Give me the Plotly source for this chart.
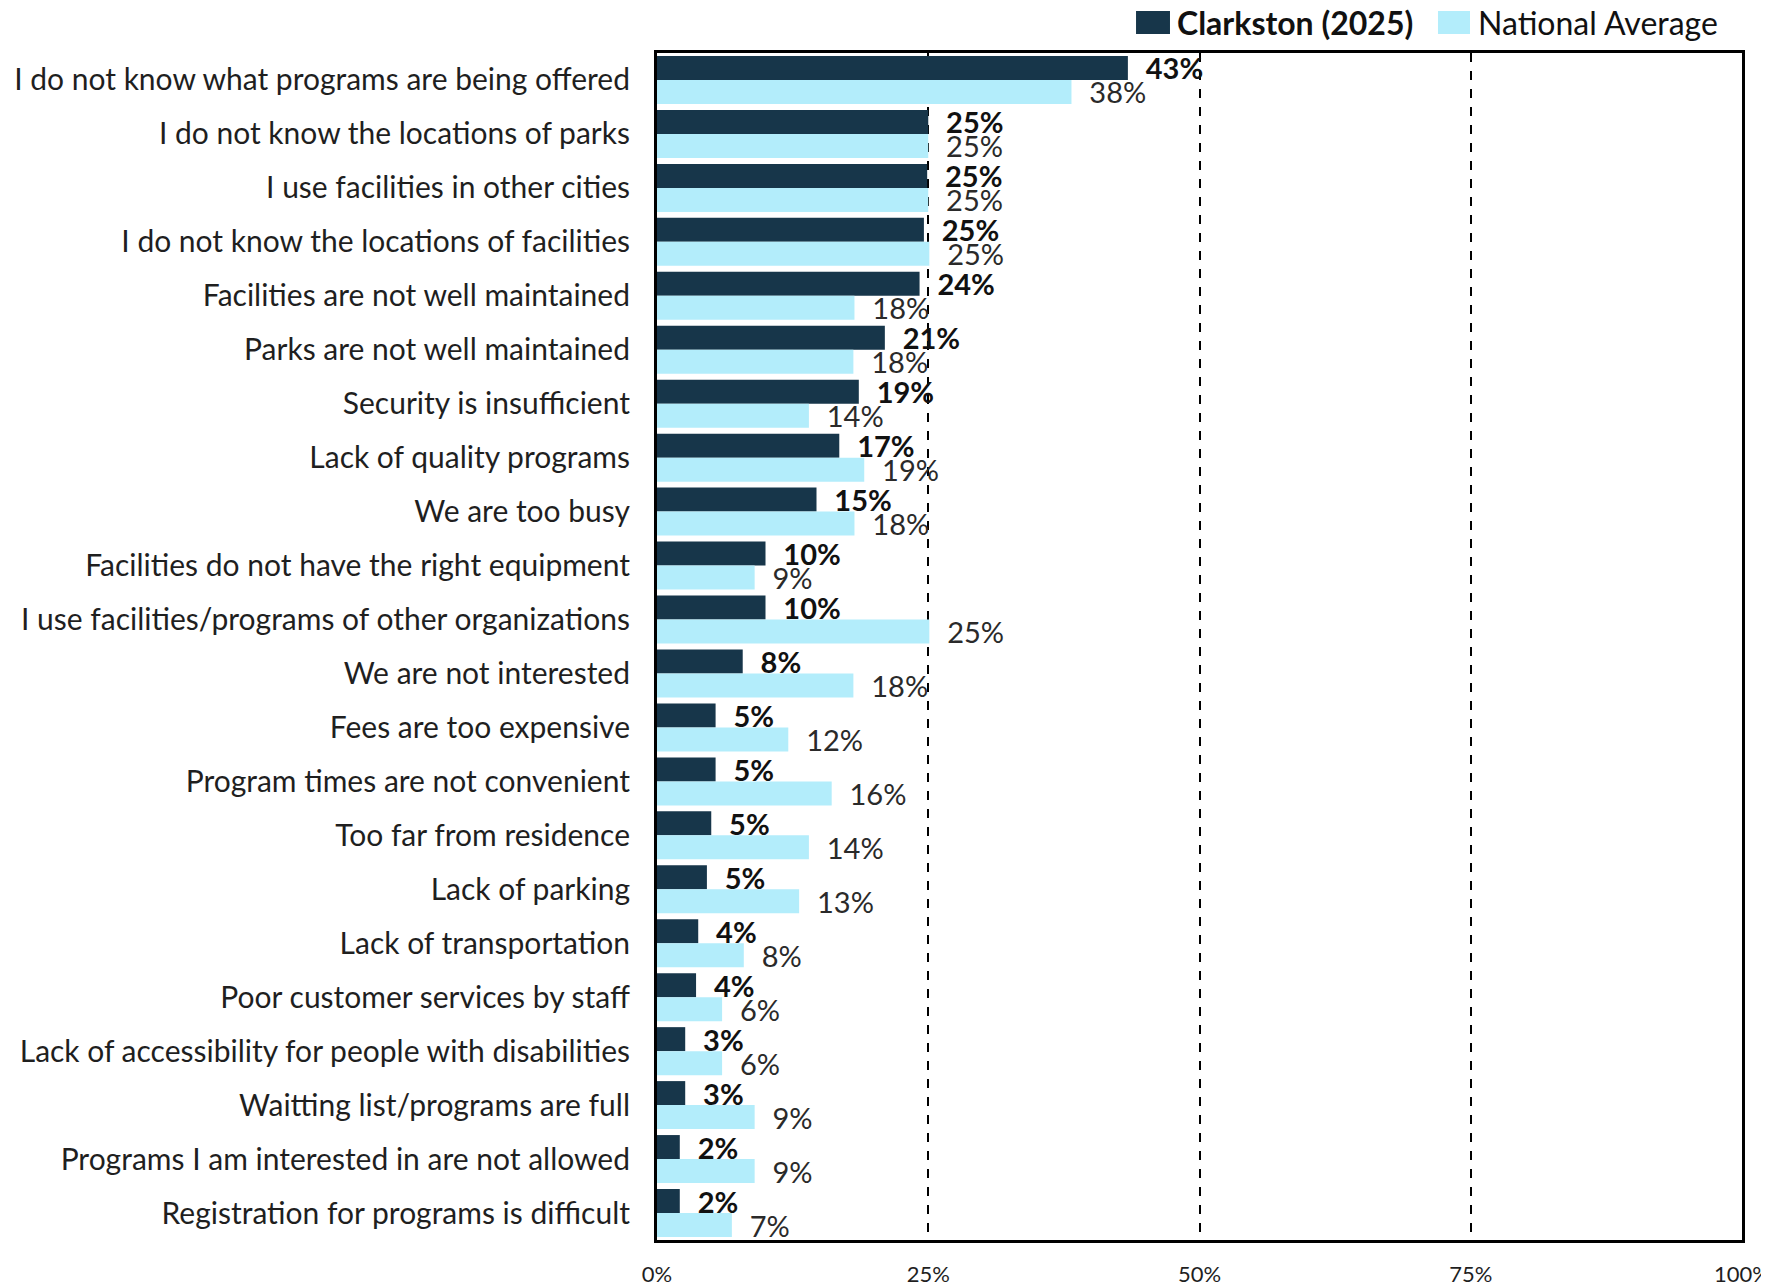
import plotly.graph_objects as go

categories = [
    "I do not know what programs are being offered",
    "I do not know the locations of parks",
    "I use facilities in other cities",
    "I do not know the locations of facilities",
    "Facilities are not well maintained",
    "Parks are not well maintained",
    "Security is insufficient",
    "Lack of quality programs",
    "We are too busy",
    "Facilities do not have the right equipment",
    "I use facilities/programs of other organizations",
    "We are not interested",
    "Fees are too expensive",
    "Program times are not convenient",
    "Too far from residence",
    "Lack of parking",
    "Lack of transportation",
    "Poor customer services by staff",
    "Lack of accessibility for people with disabilities",
    "Waitting list/programs are full",
    "Programs I am interested in are not allowed",
    "Registration for programs is difficult",
]

clarkston = [0.434, 0.250, 0.249, 0.246, 0.242, 0.210, 0.186, 0.168, 0.147, 0.100,
             0.100, 0.079, 0.054, 0.054, 0.050, 0.046, 0.038, 0.036, 0.026, 0.026,
             0.021, 0.021]
national = [0.382, 0.250, 0.250, 0.251, 0.182, 0.181, 0.140, 0.191, 0.182, 0.090,
            0.251, 0.181, 0.121, 0.161, 0.140, 0.131, 0.080, 0.060, 0.060, 0.090,
            0.090, 0.069]

series_names = ["Clarkston (2025)", "National Average"]
series_colors = ["#17364a", "#b3edfb"]

tick_vals = [0, 0.25, 0.5, 0.75, 1.0]
tick_text = ["0%", "25%", "50%", "75%", "100%"]

FONT = "Lato, Open Sans, sans-serif"
SP = "\u00a0\u00a0"

fig = go.Figure()
fig.add_trace(go.Bar(
    y=categories, x=clarkston, orientation="h",
    name=series_names[0], showlegend=False,
    marker=dict(color=series_colors[0], line=dict(width=0)),
    texttemplate=SP + "<b>%{x:.0%}</b>", textposition="outside",
    textfont=dict(family=FONT, size=29, color="#111111"),
    constraintext="none", cliponaxis=False,
))
fig.add_trace(go.Bar(
    y=categories, x=national, orientation="h",
    name=series_names[1], showlegend=False,
    marker=dict(color=series_colors[1], line=dict(width=0)),
    texttemplate=SP + "%{x:.0%}", textposition="outside",
    textfont=dict(family=FONT, size=29, color="#2a2a2a"),
    constraintext="none", cliponaxis=False,
))

# Custom legend (large square swatches, as in the reference)
legend_items = [
    dict(name=series_names[0], color=series_colors[0], bold=True,
         sq=(0.4415, 0.4728), tx=0.4774),
    dict(name=series_names[1], color=series_colors[1], bold=False,
         sq=(0.7198, 0.7493), tx=0.7548),
]
for it in legend_items:
    fig.add_shape(type="rect", xref="paper", yref="paper",
                  x0=it["sq"][0], x1=it["sq"][1], y0=1.0160, y1=1.0354,
                  fillcolor=it["color"], line=dict(width=0), layer="above")
    txt = f"<b>{it['name']}</b>" if it["bold"] else it["name"]
    fig.add_annotation(text=txt, xref="paper", yref="paper",
                       x=it["tx"], y=1.0255, xanchor="left", yanchor="middle",
                       showarrow=False,
                       font=dict(family=FONT, size=32, color="#111111"))

fig.update_layout(
    width=1769, height=1284,
    barmode="group", bargap=0.11, bargroupgap=0.0,
    plot_bgcolor="white", paper_bgcolor="white",
    margin=dict(l=649, r=35, t=45, b=52, autoexpand=False),
    font=dict(family=FONT, size=24, color="#1f1f1f"),
    showlegend=False,
)
fig.update_xaxes(
    range=[0, 1.0], tickvals=tick_vals, ticktext=tick_text,
    showgrid=True, gridcolor="black", griddash="dash", gridwidth=1.5,
    showline=True, linecolor="black", linewidth=3, mirror=True,
    tickfont=dict(family=FONT, size=22, color="#1f1f1f"), ticks="",
    ticklabelstandoff=13, ticklabeloverflow="allow", zeroline=False,
)
fig.update_yaxes(
    autorange="reversed", showline=True, linecolor="black", linewidth=3,
    mirror=True, ticks="", tickfont=dict(family=FONT, size=30, color="#1f1f1f"),
    ticklabelstandoff=18,
)

fig.write_html("out.html")
